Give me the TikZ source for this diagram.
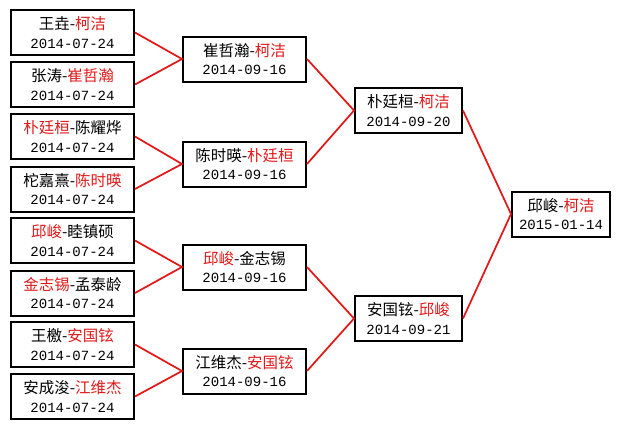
\documentclass[tikz,border=0pt]{standalone}
\usepackage{fontspec}
\setmainfont{Noto Sans CJK SC}
\newfontfamily\datefont{Liberation Mono}

\definecolor{winred}{RGB}{228,24,24}
\newcommand{\win}[1]{\textcolor{winred}{#1}}
\newcommand{\gameday}[1]{{\datefont\fontsize{10.5}{13.5}\selectfont #1}}

\tikzset{every picture/.style={line width=0.75pt}}
\tikzset{
  game/.style={draw, line width=1.5pt, fill=white, align=center, inner sep=0.75pt,
    minimum height=33.75pt, font=\fontsize{11.6}{13.8}\selectfont},
  first/.style={game, minimum width=92.25pt},
  second/.style={game, minimum width=92.25pt},
  semi/.style={game, minimum width=80.25pt},
  final/.style={game, minimum width=73.5pt},
  wire/.style={draw=winred, line width=1.3pt}
}

\begin{document}
\begin{tikzpicture}[x=0.75pt,y=0.75pt,yscale=-1,xscale=1]
\path[use as bounding box, fill=white] (0,0) rectangle (620,429);

% Text Node
\node [first] (g1) at (72.5,32.5) {王垚-\win{柯洁}\\\gameday{2014-07-24}};
% Text Node
\node [first] (g2) at (72.5,84.5) {张涛-\win{崔哲瀚}\\\gameday{2014-07-24}};
% Text Node
\node [first] (g3) at (72.5,136.5) {\win{朴廷桓}-陈耀烨\\\gameday{2014-07-24}};
% Text Node
\node [first] (g4) at (72.5,189) {柁嘉熹-\win{陈时暎}\\\gameday{2014-07-24}};
% Text Node
\node [first] (g5) at (72.5,240.5) {\win{邱峻}-睦镇硕\\\gameday{2014-07-24}};
% Text Node
\node [first] (g6) at (72.5,293) {\win{金志锡}-孟泰龄\\\gameday{2014-07-24}};
% Text Node
\node [first] (g7) at (72.5,344.5) {王檄-\win{安国铉}\\\gameday{2014-07-24}};
% Text Node
\node [first] (g8) at (72.5,396.5) {安成浚-\win{江维杰}\\\gameday{2014-07-24}};

% Text Node
\node [second] (q1) at (244.5,59) {崔哲瀚-\win{柯洁}\\\gameday{2014-09-16}};
% Text Node
\node [second] (q2) at (244.5,164) {陈时暎-\win{朴廷桓}\\\gameday{2014-09-16}};
% Text Node
\node [second] (q3) at (244.5,267) {\win{邱峻}-金志锡\\\gameday{2014-09-16}};
% Text Node
\node [second] (q4) at (244.5,371) {江维杰-\win{安国铉}\\\gameday{2014-09-16}};

% Text Node
\node [semi] (s1) at (408.5,110.5) {朴廷桓-\win{柯洁}\\\gameday{2014-09-20}};
% Text Node
\node [semi] (s2) at (408.5,318.5) {安国铉-\win{邱峻}\\\gameday{2014-09-21}};

% Text Node
\node [final] (f) at (561,214) {邱峻-\win{柯洁}\\\gameday{2015-01-14}};

%Straight Lines
\draw [wire] (g1.east) -- (q1.west) -- (g2.east);
\draw [wire] (g3.east) -- (q2.west) -- (g4.east);
\draw [wire] (g5.east) -- (q3.west) -- (g6.east);
\draw [wire] (g7.east) -- (q4.west) -- (g8.east);
%Straight Lines
\draw [wire] (q1.east) -- (s1.west) -- (q2.east);
\draw [wire] (q3.east) -- (s2.west) -- (q4.east);
%Straight Lines
\draw [wire] (s1.east) -- (f.west) -- (s2.east);

\end{tikzpicture}
\end{document}
